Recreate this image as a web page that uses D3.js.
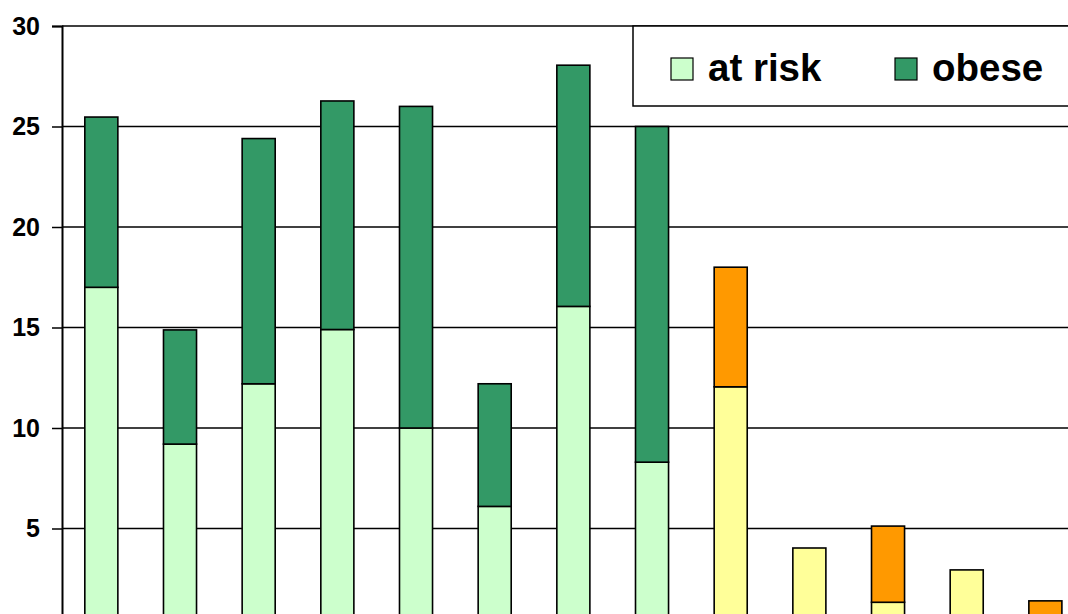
<!DOCTYPE html>
<html><head><meta charset="utf-8">
<script src="https://cdn.jsdelivr.net/npm/d3@7"></script>
<style>html,body{margin:0;padding:0;background:#fff;overflow:hidden}</style>
</head><body>
<script>
const categories = ["1","2","3","4","5","6","7","8","9","10","11","12","13"];
const atRisk = [17.0, 9.2, 12.2, 14.9, 10.0, 6.1, 16.05, 8.3, 12.05, 4.03, 1.33, 2.94, 0.5];
const obese  = [8.47, 5.68, 12.2, 11.37, 16.0, 6.1, 12.0, 16.7, 5.95, 0, 3.79, 0, 0.9];
const group  = ["g","g","g","g","g","g","g","g","y","y","y","y","y"];
const yTicks = [5, 10, 15, 20, 25, 30];
const legendLabels = ["at risk", "obese"];

const colors = {g: ["#CCFFCC", "#339966"], y: ["#FFFF99", "#FF9900"]};
const W = 1068, H = 614;
const svg = d3.select("body").append("svg").attr("width", W).attr("height", H);

const x = d3.scaleBand().domain(categories).range([62, 62 + categories.length * 78.67]).paddingInner(0.58).paddingOuter(0.29);
const y = d3.scaleLinear().domain([0, 30]).range([629, 26]);

// gridlines
svg.append("g").selectAll("line").data(yTicks).join("line")
  .attr("x1", 62).attr("x2", W + 20)
  .attr("y1", d => y(d)).attr("y2", d => y(d))
  .attr("stroke", "#000").attr("stroke-width", 1.5);

// y axis
const yAxis = d3.axisLeft(y).tickValues(yTicks).tickSize(10).tickPadding(12).tickFormat(d3.format("d"));
const ga = svg.append("g").attr("transform", "translate(62,0)").call(yAxis);
ga.select(".domain").attr("stroke", "#000").attr("stroke-width", 2);
ga.selectAll(".tick line").attr("stroke", "#000").attr("stroke-width", 1.5);
ga.selectAll(".tick text").attr("font-family", "'Liberation Sans', Arial, sans-serif")
  .attr("font-weight", "bold").attr("font-size", 25).attr("fill", "#000").attr("x", -22);

// bars
const bars = svg.append("g");
categories.forEach((c, i) => {
  const col = colors[group[i]];
  const bw = x.bandwidth();
  bars.append("rect").attr("x", x(c)).attr("width", bw)
    .attr("y", y(atRisk[i])).attr("height", y(0) - y(atRisk[i]))
    .attr("fill", col[0]).attr("stroke", "#000").attr("stroke-width", 1.6);
  if (obese[i] > 0) {
    bars.append("rect").attr("x", x(c)).attr("width", bw)
      .attr("y", y(atRisk[i] + obese[i])).attr("height", y(atRisk[i]) - y(atRisk[i] + obese[i]))
      .attr("fill", col[1]).attr("stroke", "#000").attr("stroke-width", 1.6);
  }
});

// legend
const lg = svg.append("g");
lg.append("rect").attr("x", 633).attr("y", 26).attr("width", 460).attr("height", 80)
  .attr("fill", "#fff").attr("stroke", "#000").attr("stroke-width", 1.5);
const lx = [671, 895], tx = [708, 932];
legendLabels.forEach((t, i) => {
  lg.append("rect").attr("x", lx[i]).attr("y", 58).attr("width", 22).attr("height", 22)
    .attr("fill", colors.g[i]).attr("stroke", "#000").attr("stroke-width", 1.2);
  lg.append("text").attr("x", tx[i]).attr("y", 81).text(t)
    .attr("font-family", "'Liberation Sans', Arial, sans-serif").attr("font-weight", "bold")
    .attr("font-size", 38.5).attr("fill", "#000");
});
</script>
</body></html>
